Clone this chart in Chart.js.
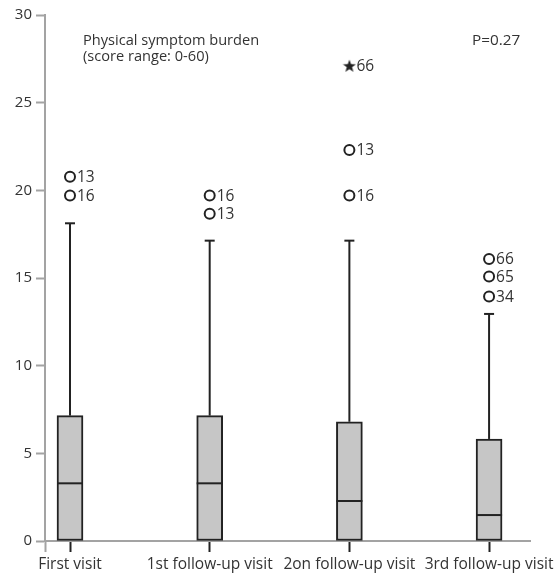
<!DOCTYPE html>
<html>
<head>
<meta charset="utf-8">
<script src="https://cdn.jsdelivr.net/npm/chart.js@4/dist/chart.umd.min.js"></script>
<style>
html,body{margin:0;padding:0;background:#fff;}
#wrap{width:554px;height:577px;position:relative;}
</style>
</head>
<body>
<div id="wrap"><canvas id="c" width="554" height="577"></canvas></div>
<script>
// ---- data ----
const categories = ['First visit', '1st follow-up visit', '2on follow-up visit', '3rd follow-up visit'];
const boxLow = [0, 0, 0, 0];
const boxHigh = [7.15, 7.15, 6.8, 5.82];
const medians = [3.29, 3.29, 2.28, 1.48];
const whiskerHigh = [18.12, 17.13, 17.13, 12.95];
const outlierCategory = [0, 0, 1, 1, 2, 2, 3, 3, 3];
const outlierValue = [20.78, 19.7, 19.7, 18.67, 22.3, 19.7, 16.09, 15.08, 13.94];
const outlierId = ['13', '16', '16', '13', '13', '16', '66', '65', '34'];
const extremeCategory = [2];
const extremeValue = [27.1];
const extremeId = ['66'];
const yTicks = [0, 5, 10, 15, 20, 25, 30];
const titleLines = ['Physical symptom burden', '(score range: 0-60)'];
const pValueText = 'P=0.27';

// ---- styles ----
const FONT = '"Open Sans", sans-serif';
const TEXT = '#333333';
const AXIS = '#a3a3a3';
const INK = '#222222';

// filled star marker
const star = document.createElement('canvas');
star.width = 14; star.height = 14;
(function(){
  const g = star.getContext('2d');
  g.fillStyle = INK;
  g.beginPath();
  const cx = 7, cy = 7.5, R = 6.8, r = 2.8;
  for (let k = 0; k < 10; k++) {
    const a = -Math.PI / 2 + k * Math.PI / 5;
    const rr = k % 2 === 0 ? R : r;
    const px = cx + rr * Math.cos(a), py = cy + rr * Math.sin(a);
    k === 0 ? g.moveTo(px, py) : g.lineTo(px, py);
  }
  g.closePath();
  g.fill();
})();

const datasets = [];
// medians
datasets.push({
  type: 'scatter', label: 'median', order: 0,
  data: medians.map((v, i) => ({x: i, y: v})),
  pointStyle: 'line', pointRadius: 13, pointBorderWidth: 2,
  borderColor: INK, backgroundColor: INK, pointHoverRadius: 13
});
// caps
datasets.push({
  type: 'scatter', label: 'cap', order: 1,
  data: whiskerHigh.map((v, i) => ({x: i, y: v})),
  pointStyle: 'line', pointRadius: 5, pointBorderWidth: 2,
  borderColor: INK, backgroundColor: INK
});
// outliers
datasets.push({
  type: 'scatter', label: 'outliers', order: 1, ids: outlierId,
  data: outlierValue.map((v, i) => ({x: outlierCategory[i], y: v})),
  pointStyle: 'circle', pointRadius: 5, pointBorderWidth: 2,
  borderColor: INK, backgroundColor: '#ffffff'
});
// extremes
datasets.push({
  type: 'scatter', label: 'extremes', order: 1, ids: extremeId,
  data: extremeValue.map((v, i) => ({x: extremeCategory[i], y: v})),
  pointStyle: star, pointRadius: 6,
  borderColor: INK, backgroundColor: INK
});
// whiskers
categories.forEach((c, i) => {
  datasets.push({
    type: 'line', label: 'whisker' + i, order: 3,
    data: [{x: i, y: boxHigh[i]}, {x: i, y: whiskerHigh[i]}],
    borderColor: INK, borderWidth: 2, pointRadius: 0, fill: false
  });
});
// boxes
datasets.push({
  type: 'bar', label: 'box', order: 5,
  data: categories.map((c, i) => ({x: i, y: [boxLow[i], boxHigh[i]]})),
  backgroundColor: '#c6c6c6', borderColor: INK, borderWidth: 2,
  borderSkipped: false, barThickness: 26
});

const textPlugin = {
  id: 'texts',
  afterDatasetsDraw(chart) {
    const ctx = chart.ctx;
    ctx.save();
    ctx.fillStyle = TEXT;
    ctx.font = '15.5px ' + FONT;
    ctx.textBaseline = 'middle';
    ctx.textAlign = 'left';
    chart.data.datasets.forEach((ds, di) => {
      if (!ds.ids) return;
      const meta = chart.getDatasetMeta(di);
      meta.data.forEach((pt, j) => {
        ctx.fillText(ds.ids[j], pt.x + 7, pt.y + 0.5);
      });
    });
    const xs = chart.scales.x, ys = chart.scales.y;
    ctx.font = '14.6px ' + FONT;
    ctx.fillText(titleLines[0], xs.left + 38, ys.top + 26);
    ctx.fillText(titleLines[1], xs.left + 38, ys.top + 42);
    ctx.font = '15.3px ' + FONT;
    ctx.fillText(pValueText, xs.left + 427, ys.top + 26);
    ctx.restore();
  }
};

new Chart(document.getElementById('c'), {
  type: 'bar',
  data: {datasets},
  options: {
    responsive: false,
    animation: false,
    events: [],
    layout: {padding: {top: 15, right: 24, left: 0, bottom: 0}},
    plugins: {legend: {display: false}, tooltip: {enabled: false}},
    scales: {
      x: {
        type: 'linear', offset: false,
        min: -0.179, max: 3.293,
        afterBuildTicks: s => { s.ticks = [{value: -0.179}].concat(categories.map((c, i) => ({value: i}))); },
        afterFit: s => { s.height = 36; s.paddingLeft = 0; s.paddingRight = 0; },
        border: {display: true, color: AXIS, width: 2},
        grid: {
          display: true, drawOnChartArea: false, drawTicks: true, tickLength: 11, offset: false,
          tickColor: c => (c.tick && Number.isInteger(c.tick.value)) ? INK : AXIS,
          tickWidth: 2
        },
        ticks: {
          autoSkip: false, maxRotation: 0, padding: 3, color: TEXT,
          font: {family: FONT, size: 15.5},
          callback: v => Number.isInteger(v) ? categories[v] : ''
        }
      },
      y: {
        type: 'linear', min: 0, max: 30,
        afterBuildTicks: s => { s.ticks = yTicks.map(v => ({value: v})); },
        afterFit: s => { s.width = 45; s.paddingTop = 0; s.paddingBottom = 0; },
        border: {display: true, color: AXIS, width: 2},
        grid: {display: true, drawOnChartArea: false, drawTicks: true, tickLength: 9, color: AXIS, tickColor: AXIS, tickWidth: 2},
        ticks: {padding: 4, color: TEXT, font: {family: FONT, size: 15}}
      }
    }
  },
  plugins: [textPlugin]
});
</script>
</body>
</html>
